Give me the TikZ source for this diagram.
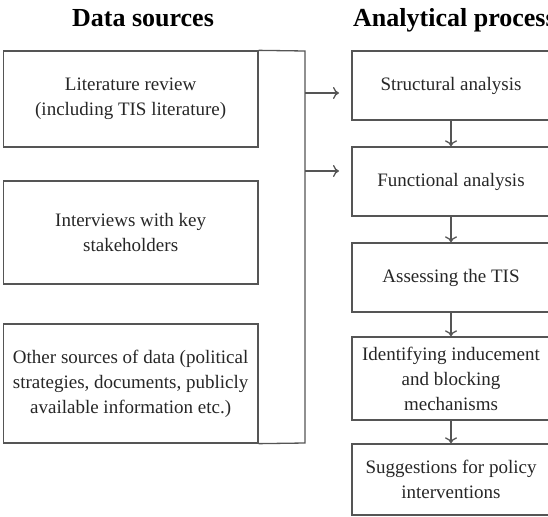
\documentclass[tikz,border=0pt]{standalone}
\usepackage{fontspec}
\setmainfont{Liberation Serif}
\usetikzlibrary{arrows.meta}
\definecolor{linegray}{HTML}{555555}
\definecolor{textgray}{HTML}{262626}
\tikzset{
  box/.style={draw=linegray, line width=1.3pt, rectangle, inner sep=0pt, align=center,
    text=textgray, font=\fontsize{19}{25}\selectfont},
  title/.style={font=\bfseries\fontsize{26}{30}\selectfont, text=black, inner sep=0pt},
  conn/.style={draw=linegray, line width=1.3pt},
  arr/.style={conn, -{Computer Modern Rightarrow[length=6pt,width=12pt]}},
}
\begin{document}
\begin{tikzpicture}[x=1pt,y=-1pt]
\useasboundingbox (0,0) rectangle (548,516);
% titles
\node[title, anchor=base] (t1) at (143,27) {Data sources};
\node[title, anchor=base west] (t2) at (353,27) {Analytical process};
% left boxes
\node[box, minimum width=254.7pt, minimum height=96pt] (l1) at (130.65,99)
  {Literature review\\(including TIS literature)};
\node[box, minimum width=254.7pt, minimum height=103pt] (l2) at (130.65,232.5)
  {Interviews with key\\stakeholders};
\node[box, minimum width=254.7pt, minimum height=119pt] (l3) at (130.65,383.5)
  {Other sources of data (political\\strategies, documents, publicly\\available information etc.)};
% right boxes
\node[box, minimum width=198pt, minimum height=69pt] (r1) at (451,85.5) {Structural analysis};
\node[box, minimum width=198pt, minimum height=69pt] (r2) at (451,181.5) {Functional analysis};
\node[box, minimum width=198pt, minimum height=69pt] (r3) at (451,277.5) {Assessing the TIS};
\node[box, minimum width=198pt, minimum height=83pt] (r4) at (451,378.5)
  {Identifying inducement\\and blocking\\mechanisms};
\node[box, minimum width=198pt, minimum height=71pt] (r5) at (451,479.5)
  {Suggestions for policy\\interventions};
% bracket
\coordinate (bt) at (305,51);
\coordinate (bb) at (305,443);
\coordinate (a1s) at (305,93);
\coordinate (a1e) at (339,93);
\coordinate (a2s) at (305,171);
\coordinate (a2e) at (339,171);
\draw[conn] (l1.north east) -- (bt) -- (bb) -- (l3.south east);
\draw[arr] (a1s) -- (a1e);
\draw[arr] (a2s) -- (a2e);
% down arrows
\draw[arr] (r1) -- (r2);
\draw[arr] (r2) -- (r3);
\draw[arr] (r3) -- (r4);
\draw[arr] (r4) -- (r5);
\end{tikzpicture}
\end{document}
